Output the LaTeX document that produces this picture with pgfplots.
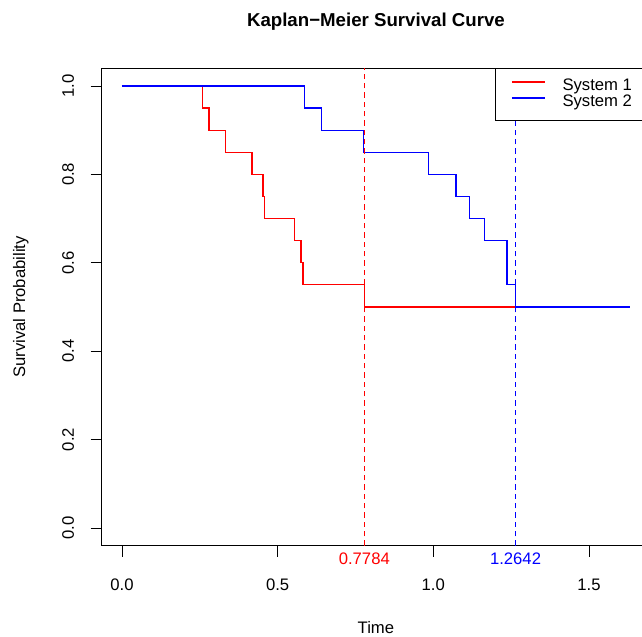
\documentclass[border=0pt]{standalone}
\usepackage{fontspec}
\setmainfont{Liberation Sans}
\usepackage{pgfplots}
\pgfplotsset{compat=1.18}

\newcommand{\lblfont}{\fontsize{12.5}{15}\selectfont}

\begin{document}
\begin{tikzpicture}
\begin{axis}[
    x=233.5pt, y=331.5pt,
    xmin=-0.0652, xmax=1.697,
    ymin=-0.04, ymax=1.04,
    clip=false,
    axis line style={line width=0.6pt},
    xtick={0,0.5,1,1.5},
    xticklabels={0.0,0.5,1.0,1.5},
    ytick={0,0.2,0.4,0.6,0.8,1},
    yticklabels={0.0,0.2,0.4,0.6,0.8,1.0},
    xtick pos=bottom, ytick pos=left,
    tick align=outside,
    major tick length=8.25pt,
    tick style={black, line width=0.6pt},
    ticklabel style={font=\lblfont},
    xticklabel style={yshift=-13.5pt},
    yticklabel style={xshift=-9pt, rotate=90, anchor=south},
    legend style={
        at={(axis description cs:0.7168,1)}, anchor=north west,
        draw=black, fill=white, line width=0.6pt,
        font=\lblfont,
        inner xsep=12pt, inner ysep=7.5pt,
        column sep=12.5pt, row sep=0pt,
        nodes={inner sep=0pt, text height=9pt, text depth=3pt},
    },
    legend cell align=left,
    legend image code/.code={\draw[#1, line width=0.9pt] (0pt,3.5pt) -- (25pt,3.5pt);},
]
    % step curves
    \addplot[red, line width=0.9pt, const plot] coordinates {
        (0,1) (0.258,0.95) (0.2795,0.90) (0.332,0.85) (0.4176,0.80)
        (0.453,0.75) (0.457,0.70) (0.5535,0.65) (0.575,0.60)
        (0.5815,0.55) (0.7784,0.50) (1.632,0.50)
    };
    \addlegendentry{System 1}
    \addplot[blue, line width=0.9pt, const plot] coordinates {
        (0,1) (0.587,0.95) (0.640,0.90) (0.777,0.85) (0.985,0.80)
        (1.073,0.75) (1.117,0.70) (1.164,0.65) (1.237,0.55)
        (1.2642,0.50) (1.632,0.50)
    };
    \addlegendentry{System 2}

    % median lines
    \addplot[draw=red, line width=0.8pt, dash pattern=on 4pt off 3pt, forget plot]
        coordinates {(0.7784,-0.04) (0.7784,1.04)};
    \addplot[draw=blue, line width=0.8pt, dash pattern=on 4pt off 3pt, forget plot]
        coordinates {(1.2642,-0.04) (1.2642,1.04)};

    \node[text=red, font=\lblfont] at (axis cs:0.7784,-0.0701) {0.7784};
    \node[text=blue, font=\lblfont] at (axis cs:1.2642,-0.0701) {1.2642};

    \node[font=\bfseries\fontsize{14}{17}\selectfont] at (axis cs:0.8157,1.1455)
        {Kaplan−Meier Survival Curve};
    \node[font=\lblfont] at (axis cs:0.8157,-0.2262) {Time};
    \node[font=\lblfont, rotate=90] at (axis cs:-0.325,0.5) {Survival Probability};

    \coordinate (bl) at (axis cs:-0.3919,-0.2466);
    \coordinate (tr) at (axis cs:1.6704,1.1946);
\end{axis}
\pgfresetboundingbox
\useasboundingbox (bl) rectangle (tr);
\end{tikzpicture}
\end{document}
